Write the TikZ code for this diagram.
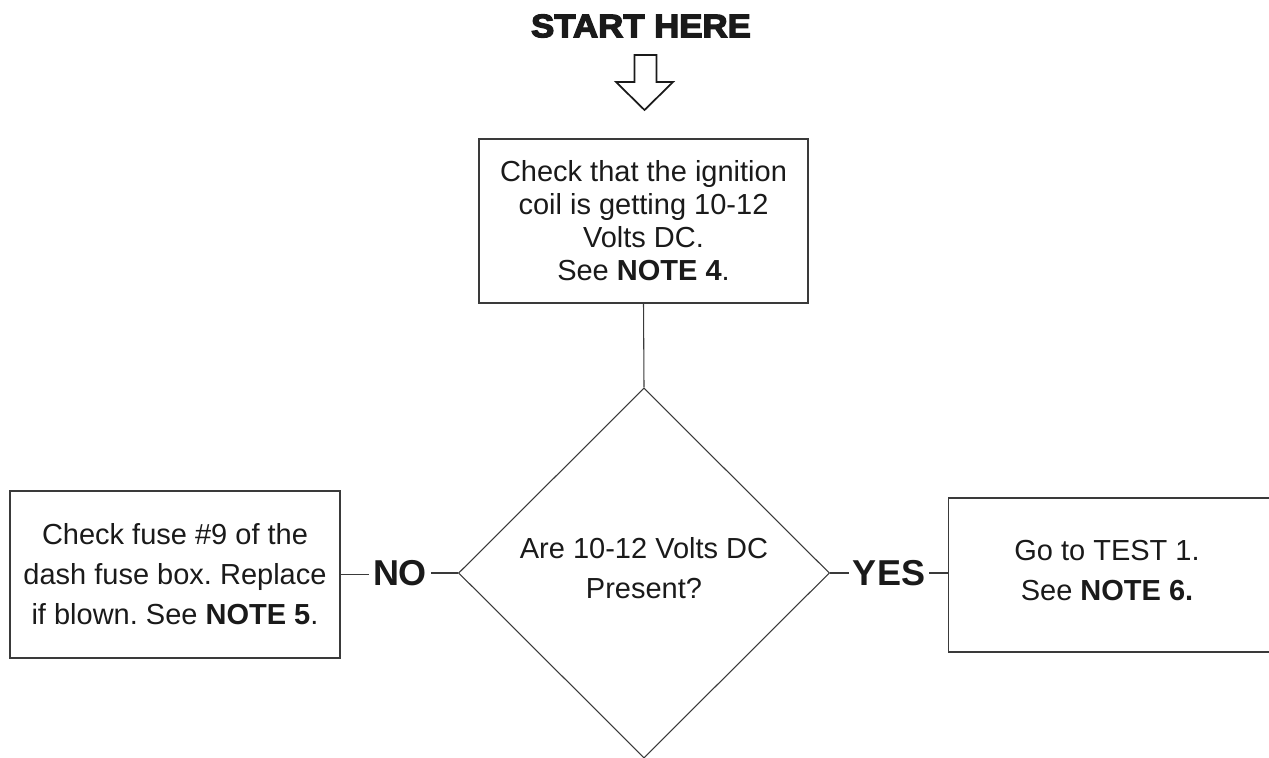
\documentclass[tikz,border=0pt]{standalone}
\usepackage{fontspec}
\setmainfont{Liberation Sans}
\newfontfamily\heavyfont[FakeBold=4,FakeStretch=1.07]{Liberation Sans Bold}
\usetikzlibrary{shapes.geometric}
\newdimen\pxu \pxu=0.75pt
\definecolor{ink}{HTML}{1A1A1A}
\definecolor{edge}{HTML}{3A3A3A}
\frenchspacing
\begin{document}
\begin{tikzpicture}[x=0.75pt,y=-0.75pt,
  every node/.style={text=ink},
  stepbox/.style={draw=edge,line width=1.1pt,rectangle,inner sep=0pt,align=center,
    font=\frenchspacing\fontsize{21.75}{30}\selectfont},
  decbox/.style={draw=edge,line width=0.8pt,diamond,inner sep=0pt,aspect=1,align=center,
    font=\frenchspacing\fontsize{21.75}{30}\selectfont},
  answer/.style={font=\fontsize{27}{30}\selectfont\bfseries,inner xsep=4\pxu,inner ysep=0pt},
  conn/.style={draw=edge,line width=0.8pt}]
\useasboundingbox (0,0) rectangle (1269,757);
% title
\node (title) at (641,26) {\heavyfont\fontsize{24.4}{28}\selectfont START HERE};
% hollow arrow
\draw[draw=ink,line width=1.3pt,line join=miter]
  (634.5,55) -- (656.5,55) -- (656.5,82) -- (673,82) -- (644.5,110) -- (616,82) -- (634.5,82) -- cycle;
% top box
\node[stepbox,minimum width=329\pxu,minimum height=164\pxu,
  font=\frenchspacing\fontsize{21.75}{24.75}\selectfont] (check) at (643.5,221)
  {Check that the ignition\\coil is getting 10-12\\Volts DC.\\See \textbf{NOTE 4}.};
% decision
\node[decbox,minimum width=371\pxu,minimum height=370\pxu] (dec) at (644,573)
  {Are 10-12 Volts DC\\Present?\rule[-10\pxu]{0pt}{0pt}};
% left box
\node[stepbox,minimum width=330\pxu,minimum height=167\pxu] (fuse) at (175,574.5)
  {Check fuse \#9 of the\\dash fuse box. Replace\\if blown. See \textbf{NOTE 5}.};
% right box (right edge off the page)
\node[stepbox,minimum width=330\pxu,minimum height=154\pxu,anchor=west] (test) at (948,575) {};
\node[font=\frenchspacing\fontsize{21.75}{30}\selectfont,align=center] (testtxt) at (1107,571)
  {Go to TEST 1.\\ See \textbf{NOTE 6.}};
% answers
\node[answer] (no) at (400,573) {NO};
\node[answer] (yes) at (889,573) {YES};
% connectors
\draw[conn] (check.south) -- (dec.north);
\draw[conn] (fuse.east) -- (fuse.east -| no.west);
\draw[conn] (no.east) -- (dec.west);
\draw[conn] (dec.east) -- (yes.west);
\draw[conn] (yes.east) -- (yes.east -| test.west);
\end{tikzpicture}
\end{document}
